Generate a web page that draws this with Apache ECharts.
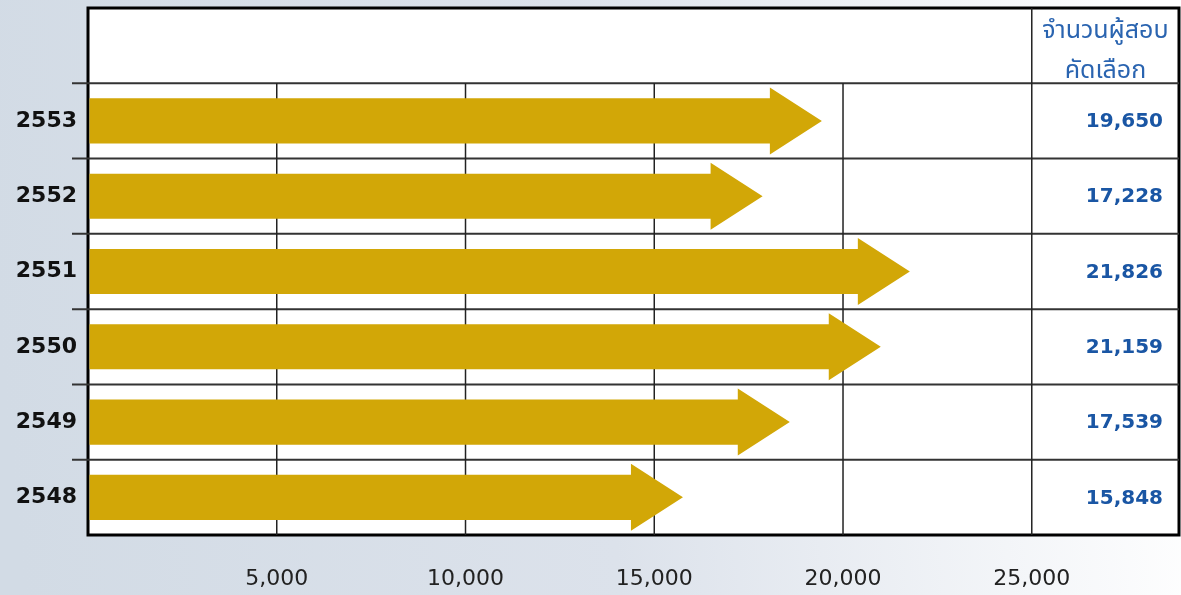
<!DOCTYPE html>
<html>
<head>
<meta charset="utf-8">
<script src="https://cdn.jsdelivr.net/npm/echarts@6/dist/echarts.min.js"></script>
<style>html,body{margin:0;padding:0;}#c{width:1181px;height:595px;}</style>
</head>
<body>
<div id="c"></div>
<script>
// ---- data ----
const years = ['2548', '2549', '2550', '2551', '2552', '2553'];
// printed numbers of applicants (right-hand column)
const applicants = [15848, 17539, 21159, 21826, 17228, 19650];
// arrow lengths as drawn in the picture
const arrowLengths = [15760, 18590, 21000, 21770, 17870, 19440];
const xTicks = [5000, 10000, 15000, 20000, 25000];
const xMax = 28900;
const headerLines = ['จำนวนผู้สอบ', 'คัดเลือก'];

const fmt = v => v.toLocaleString('en-US');
const numFont = '"DejaVu Sans", Lato, sans-serif';
const thaiFont = '"Noto Sans Thai", "Noto Sans", "DejaVu Sans", sans-serif';

const chart = echarts.init(document.getElementById('c'));

function tableItem(params, api) {
  const cs = params.coordSys;
  const idx = api.value(1);
  const yc = api.coord([0, idx])[1];
  const bh = api.size([0, 1])[1];
  const top = yc - bh / 2, bottom = yc + bh / 2;
  const right = cs.x + cs.width;
  const children = [];
  if (idx < years.length) {
    children.push({ type: 'line', shape: { x1: cs.x - 16, y1: top, x2: right, y2: top },
      style: { stroke: '#333', lineWidth: 2 } });
    xTicks.forEach(t => {
      const x = api.coord([t, idx])[0];
      children.push({ type: 'line', shape: { x1: x, y1: top, x2: x, y2: bottom },
        style: { stroke: '#222', lineWidth: 1.5 } });
    });
    children.push({ type: 'text', style: { text: fmt(applicants[idx]), x: right - 16, y: yc + 1,
      align: 'right', verticalAlign: 'middle', font: 'bold 20px ' + numFont, fill: '#1A56A4' } });
  } else {
    const x = api.coord([xTicks[xTicks.length - 1], idx])[0];
    children.push({ type: 'line', shape: { x1: x, y1: top, x2: x, y2: bottom },
      style: { stroke: '#222', lineWidth: 1.5 } });
    const cx = (x + right) / 2;
    headerLines.forEach((t, k) => {
      children.push({ type: 'text', style: { text: t, x: cx, y: top + bh * (0.33 + k * 0.53),
        align: 'center', verticalAlign: 'middle', font: '25px ' + thaiFont, fill: '#2A64B0' } });
    });
  }
  return { type: 'group', children };
}

function arrowItem(params, api) {
  const idx = api.value(1);
  const v = api.value(0);
  const yc = api.coord([0, idx])[1];
  const bh = api.size([0, 1])[1];
  const x0 = api.coord([0, idx])[0] + 1.5;
  const tip = api.coord([v, idx])[0];
  const headLen = 52;
  const sh = bh * 0.3, hh = bh * 0.445;
  const hx = tip - headLen;
  return {
    type: 'polygon',
    shape: { points: [[x0, yc - sh], [hx, yc - sh], [hx, yc - hh], [tip, yc], [hx, yc + hh], [hx, yc + sh], [x0, yc + sh]] },
    style: { fill: '#D2A707' }
  };
}

chart.setOption({
  backgroundColor: {
    type: 'linear', x: 0, y: 0.6, x2: 1, y2: 0.4,
    colorStops: [
      { offset: 0, color: '#D2DBE5' },
      { offset: 0.5, color: '#DCE2EB' },
      { offset: 1, color: '#FFFFFF' }
    ]
  },
  animation: false,
  grid: { left: 88, right: 2, top: 8, bottom: 60, show: true, backgroundColor: '#fff',
    borderColor: '#000', borderWidth: 3 },
  xAxis: {
    type: 'value', min: 0, max: xMax, interval: 5000,
    axisLine: { show: false }, axisTick: { show: false }, splitLine: { show: false },
    axisLabel: { showMaxLabel: false, margin: 33, fontSize: 22, color: '#222', fontFamily: numFont,
      formatter: v => (v === 0 ? '' : fmt(v)) }
  },
  yAxis: {
    type: 'category', data: years.concat(['']),
    axisLine: { show: false }, axisTick: { show: false }, splitLine: { show: false },
    axisLabel: { margin: 11, fontSize: 22, fontWeight: 'bold', color: '#111', fontFamily: numFont }
  },
  series: [
    { type: 'custom', name: 'table', renderItem: tableItem, z: 1,
      data: years.map((y, i) => [0, i]).concat([[0, years.length]]) },
    { type: 'custom', name: 'arrows', renderItem: arrowItem, z: 3,
      data: arrowLengths.map((v, i) => [v, i]) }
  ]
});
</script>
</body>
</html>
